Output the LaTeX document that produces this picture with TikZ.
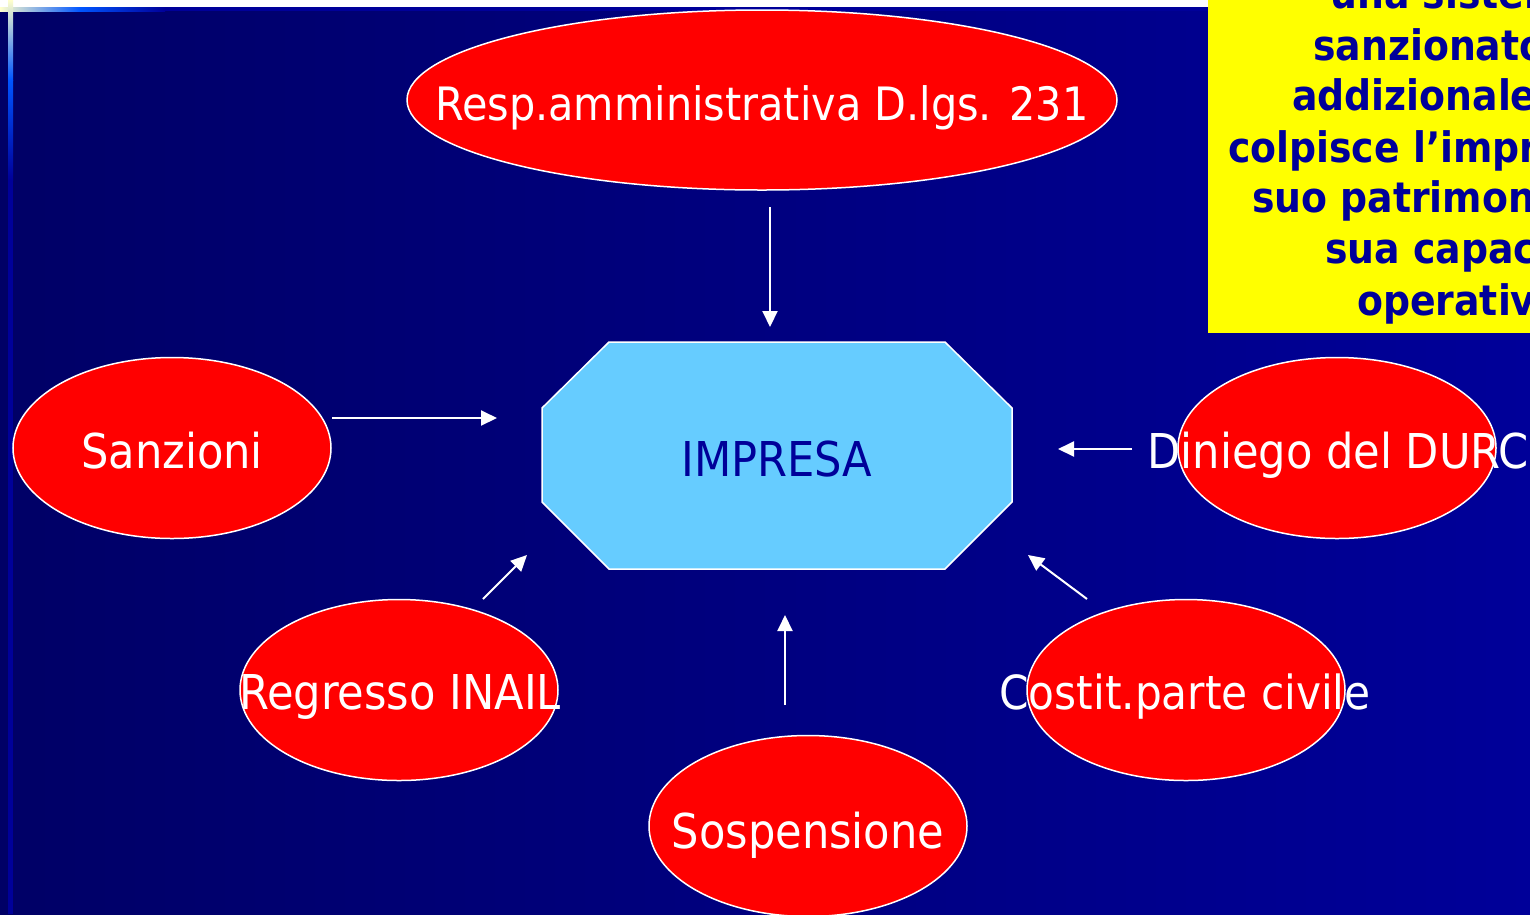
\documentclass[tikz,border=0pt]{standalone}
\usepackage{fontspec}
\setmainfont{DejaVu Sans Condensed}
\usetikzlibrary{arrows.meta,shapes.geometric}
\definecolor{navyL}{HTML}{000066}
\definecolor{navyR}{HTML}{000099}
\definecolor{imprfill}{HTML}{66CCFF}
\definecolor{ovred}{HTML}{FF0000}
\definecolor{yel}{HTML}{FFFF00}
\definecolor{txtblue}{HTML}{000099}
\definecolor{cream}{HTML}{FFFFCC}
\definecolor{brightblue}{HTML}{0055FF}
\begin{document}
\begin{tikzpicture}[x=1pt,y=-1pt,
  oval/.style={ellipse, fill=ovred, draw=white, line width=1.5pt, inner sep=0pt},
  ovaltext/.style={text=white, font=\fontsize{48}{56}\selectfont, anchor=base, inner sep=0pt},
  flow/.style={draw=white, line width=2pt, -{Triangle[length=16pt,width=15pt]}},
  yeltext/.style={text=txtblue, font=\bfseries\fontsize{42}{50}\selectfont, anchor=base west, inner sep=0pt}
]
\useasboundingbox (0,0) rectangle (1530,914);
% background
\shade[left color=navyL, right color=navyR] (0,0) rectangle (1530,914);
\fill[white] (0,0) rectangle (1208,7);
\shade[left color=cream, right color=brightblue] (0,7) rectangle (80,11);
\shade[left color=brightblue, right color=navyR] (80,7) rectangle (165,11);
\fill[navyR] (165,7) rectangle (1208,11);
\shade[top color=cream, bottom color=brightblue] (8,0) rectangle (13,80);
\shade[top color=brightblue, bottom color=navyR] (8,80) rectangle (13,180);
\fill[navyR] (8,180) rectangle (13,914);

% yellow box
\begin{scope}
\clip (1208,0) rectangle (1530,333);
\fill[yel] (1208,0) rectangle (1530,333);
\node[yeltext] (y0) at (1330,8) {una sistema};
\node[yeltext] (y1) at (1313,60) {sanzionatorio};
\node[yeltext] (y2) at (1292,110) {addizionale};
\node[yeltext] (y3) at (1228,162) {colpisce l’impresa};
\node[yeltext] (y4) at (1252,212) {suo patrimonio};
\node[yeltext] (y5) at (1325,263) {sua capacità};
\node[yeltext] (y6) at (1357,315) {operativa};
\end{scope}

% ellipses
\node[oval, minimum width=710pt, minimum height=180pt] (resp) at (762,100) {};
\node[ovaltext, font=\fontsize{46}{56}\selectfont] (resptxt) at (762,120) {Resp.amministrativa D.lgs. 231};
\node[oval, minimum width=318pt, minimum height=181pt] (sanz) at (172,448) {};
\node[ovaltext] (sanztxt) at (172,468) {Sanzioni};
\node[oval, minimum width=318pt, minimum height=181pt] (durc) at (1337,448) {};
\node[ovaltext] (durctxt) at (1338,468) {Diniego del DURC};
\node[oval, minimum width=318pt, minimum height=181pt] (inail) at (399,690) {};
\node[ovaltext] (inailtxt) at (400,709) {Regresso INAIL};
\node[oval, minimum width=318pt, minimum height=181pt] (civ) at (1186,690) {};
\node[ovaltext, font=\fontsize{47}{56}\selectfont] (civtxt) at (1185,709) {Costit.parte civile};
\node[oval, minimum width=318pt, minimum height=181pt] (sosp) at (808,826) {};
\node[ovaltext] (sosptxt) at (808,848) {Sospensione};

% impresa octagon
\fill[imprfill, draw=white, line width=1.5pt]
  (609,342) -- (945,342) -- (1012,408) -- (1012,502) -- (945,569) -- (609,569)
  -- (542,502) -- (542,408) -- cycle;
\node[text=txtblue, font=\fontsize{48}{56}\selectfont, anchor=base, inner sep=0pt] (impresa) at (777,476) {IMPRESA};

% arrows
\coordinate (a1s) at (770,207); \coordinate (a1e) at (770,327);
\coordinate (a2s) at (332,418); \coordinate (a2e) at (497,418);
\coordinate (a3s) at (1132,449); \coordinate (a3e) at (1058,449);
\coordinate (a4s) at (483,599); \coordinate (a4e) at (527,555);
\coordinate (a5s) at (1087,599); \coordinate (a5e) at (1028,555);
\coordinate (a6s) at (785,705); \coordinate (a6e) at (785,615);
\draw[flow] (a1s) -- (a1e);
\draw[flow] (a2s) -- (a2e);
\draw[flow] (a3s) -- (a3e);
\draw[flow] (a4s) -- (a4e);
\draw[flow] (a5s) -- (a5e);
\draw[flow] (a6s) -- (a6e);
\end{tikzpicture}
\end{document}
